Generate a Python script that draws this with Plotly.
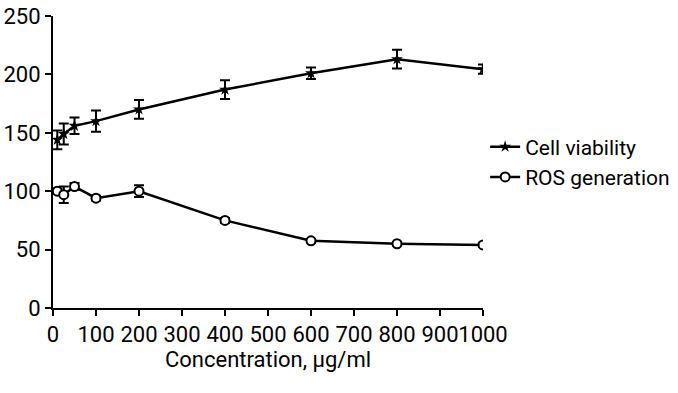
import plotly.graph_objects as go

concentration = [10, 25, 50, 100, 200, 400, 600, 800, 1000]
cell_viability = [144, 149, 156, 160, 170, 187, 201, 213, 204.5]
cell_viability_err = [8, 9, 7, 9, 8, 8, 5, 8, 4]
ros_generation = [100, 97, 104, 94, 100, 75, 57.5, 55, 54]
ros_err = [2, 7, 3, 2, 5, 2, 1.5, 1.5, 1.5]
x_ticks = [0, 100, 200, 300, 400, 500, 600, 700, 800, 900, 1000]
y_ticks = [0, 50, 100, 150, 200, 250]

FAM = "Roboto, Liberation Sans, sans-serif"
def F(size=22):
    return dict(family=FAM, size=size, color="black")

fig = go.Figure()
fig.add_trace(go.Scatter(
    x=concentration, y=cell_viability, name="Cell viability",
    mode="lines+markers",
    line=dict(color="black", width=2.5),
    marker=dict(symbol="star", size=9, color="black"),
    error_y=dict(type="data", array=cell_viability_err, color="black", thickness=2, width=5),
))
fig.add_trace(go.Scatter(
    x=concentration, y=ros_generation, name="ROS generation",
    mode="lines+markers",
    line=dict(color="black", width=2.5),
    marker=dict(symbol="circle", size=9, color="white", line=dict(color="black", width=2)),
    error_y=dict(type="data", array=ros_err, color="black", thickness=2, width=5),
))

fig.update_layout(
    width=678, height=393,
    margin=dict(l=53, r=195, t=16, b=85, autoexpand=False),
    paper_bgcolor="white", plot_bgcolor="white",
    font=F(),
    showlegend=True,
    legend=dict(x=1.005, y=0.5, xanchor="left", yanchor="middle",
                font=F(21), itemwidth=30, tracegroupgap=0, bgcolor="rgba(0,0,0,0)"),
    xaxis=dict(range=[0, 1000], tickvals=x_ticks, ticktext=[str(v) for v in x_ticks],
               tickangle=0, automargin=True,
               showgrid=False, zeroline=False, showline=True, linecolor="black", linewidth=2,
               ticks="outside", ticklen=6, tickwidth=2, tickcolor="black",
               tickfont=F(),
               title=dict(text="Concentration, µg/ml", font=F(), standoff=4)),
    yaxis=dict(range=[0, 250], tickvals=y_ticks, automargin=False,
               showgrid=False, zeroline=False, showline=True, linecolor="black", linewidth=2,
               ticks="outside", ticklen=6, tickwidth=2, tickcolor="black",
               tickfont=F()),
)

fig.write_html("out.html", config={"displayModeBar": False},
               post_script="document.body.style.margin='0';document.body.style.padding='0';")
